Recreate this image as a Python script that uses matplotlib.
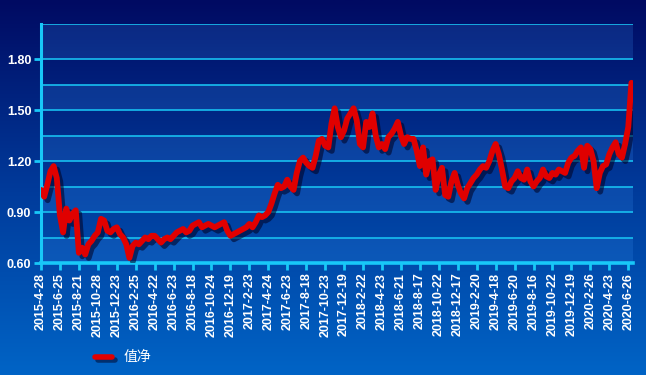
import numpy as np
import matplotlib
matplotlib.use('Agg')
import matplotlib.pyplot as plt
import matplotlib.patheffects as pe
from matplotlib.colors import LinearSegmentedColormap

plt.rcParams['font.family'] = ['Liberation Sans', 'Noto Sans CJK SC', 'DejaVu Sans']

# 净值, 每个刻度区间读6个点
nav = [1.03, 0.99, 1.06, 1.14, 1.17, 1.10,
       0.88, 0.78, 0.92, 0.85, 0.89, 0.91,
       0.66, 0.69, 0.65, 0.71, 0.73, 0.76,
       0.78, 0.86, 0.85, 0.79, 0.78, 0.80,
       0.81, 0.77, 0.75, 0.71, 0.63, 0.70,
       0.72, 0.71, 0.73, 0.75, 0.74, 0.76,
       0.76, 0.74, 0.72, 0.74, 0.75, 0.74,
       0.76, 0.78, 0.79, 0.80, 0.78, 0.79,
       0.82, 0.83, 0.84, 0.81, 0.82, 0.83,
       0.82, 0.81, 0.82, 0.83, 0.84, 0.79,
       0.76, 0.77, 0.78, 0.79, 0.80, 0.81,
       0.83, 0.81, 0.84, 0.88, 0.87, 0.88,
       0.90, 0.95, 1.01, 1.06, 1.04, 1.05,
       1.09, 1.05, 1.03, 1.13, 1.20, 1.22,
       1.19, 1.17, 1.16, 1.23, 1.32, 1.33,
       1.29, 1.28, 1.42, 1.51, 1.40, 1.34,
       1.38, 1.45, 1.48, 1.51, 1.44, 1.30,
       1.28, 1.43, 1.40, 1.48, 1.35, 1.28,
       1.30, 1.27, 1.34, 1.36, 1.39, 1.43,
       1.35, 1.30, 1.34, 1.33, 1.33, 1.26,
       1.17, 1.28, 1.12, 1.20, 1.21, 1.03,
       1.12, 1.16, 1.00, 0.99, 1.08, 1.13,
       1.06, 1.01, 0.98, 1.04, 1.07, 1.10,
       1.12, 1.15, 1.17, 1.16, 1.20, 1.26,
       1.30, 1.24, 1.15, 1.05, 1.04, 1.08,
       1.10, 1.14, 1.10, 1.09, 1.15, 1.08,
       1.05, 1.08, 1.10, 1.15, 1.11, 1.10,
       1.13, 1.12, 1.15, 1.14, 1.13, 1.19,
       1.22, 1.23, 1.26, 1.28, 1.16, 1.29,
       1.27, 1.20, 1.04, 1.13, 1.17, 1.18,
       1.24, 1.28, 1.31, 1.24, 1.22, 1.30,
       1.40, 1.66]
dates = ['2015-4-28', '2015-6-25', '2015-8-21', '2015-10-28', '2015-12-23',
         '2016-2-25', '2016-4-22', '2016-6-23', '2016-8-18', '2016-10-24',
         '2016-12-19', '2017-2-23', '2017-4-24', '2017-6-23', '2017-8-18',
         '2017-10-23', '2017-12-19', '2018-2-22', '2018-4-23', '2018-6-21',
         '2018-8-17', '2018-10-22', '2018-12-17', '2019-2-20', '2019-4-18',
         '2019-6-20', '2019-8-16', '2019-10-22', '2019-12-19', '2020-2-26',
         '2020-4-23', '2020-6-26']
step = 6

fig = plt.figure(figsize=(6.46, 3.75), dpi=100)

# 背景渐变
bg = fig.add_axes([0, 0, 1, 1], zorder=-2)
cmap = LinearSegmentedColormap.from_list('bg', ['#000a62', '#003a9a', '#0064c6'])
bg.imshow(np.linspace(0, 1, 256).reshape(-1, 1), aspect='auto', cmap=cmap,
          extent=[0, 1, 0, 1], origin='upper')
bg.axis('off')

ax = fig.add_axes([41 / 646, 1 - 263 / 375, 592 / 646, 239 / 375])
ax.set_facecolor('none')
ymin, ymax = 0.60, 2.006
band_edges = [0.60, 0.75, 0.90, 1.05, 1.20, 1.35, 1.50, 1.65, 1.80, ymax]
for i in range(len(band_edges) - 1):
    if i % 2 == 0:
        ax.axhspan(band_edges[i], band_edges[i + 1], color='#3a90f0', alpha=0.2, lw=0, zorder=0)
for y in band_edges:
    ax.axhline(y, color='#18bff0', lw=1.2, zorder=1)

x = np.arange(len(nav))
ax.plot(x, nav, color='#e00000', lw=4.2, solid_capstyle='round', zorder=3,
        path_effects=[pe.SimpleLineShadow(offset=(2.5, -2.5), shadow_color='#000020', alpha=0.55),
                      pe.Normal()])

ax.set_xlim(0, 187.5)
ax.set_ylim(ymin, ymax)
ax.set_yticks([0.60, 0.90, 1.20, 1.50, 1.80])
ax.set_yticklabels(['0.60', '0.90', '1.20', '1.50', '1.80'])
ax.set_xticks(np.arange(len(dates)) * step)
ax.set_xticklabels(dates, rotation=90)
for s in ['top', 'right']:
    ax.spines[s].set_visible(False)
ax.spines['left'].set_color('#18c8f8')
ax.spines['left'].set_linewidth(2.2)
ax.spines['bottom'].set_color('#18c8f8')
ax.spines['bottom'].set_linewidth(2.6)
ax.tick_params(axis='both', colors='#18c8f8', width=2, length=5, pad=2)
ax.tick_params(axis='both', labelcolor='white', labelsize=9)
for lab in ax.get_xticklabels() + ax.get_yticklabels():
    lab.set_fontweight('bold')

# 图例
fig.lines.append(plt.Line2D([95 / 646, 112 / 646], [1 - 357 / 375, 1 - 357 / 375],
                            transform=fig.transFigure, color='#e00000', lw=4,
                            solid_capstyle='round',
                            path_effects=[pe.SimpleLineShadow(offset=(2, -2), shadow_color='#000020', alpha=0.5),
                                          pe.Normal()]))
fig.text(124 / 646, 1 - 357 / 375, '值净', color='white', fontsize=10,
         family=['Noto Sans CJK SC', 'DejaVu Sans'], va='center', ha='left')

fig.savefig('out.png', dpi=100)
